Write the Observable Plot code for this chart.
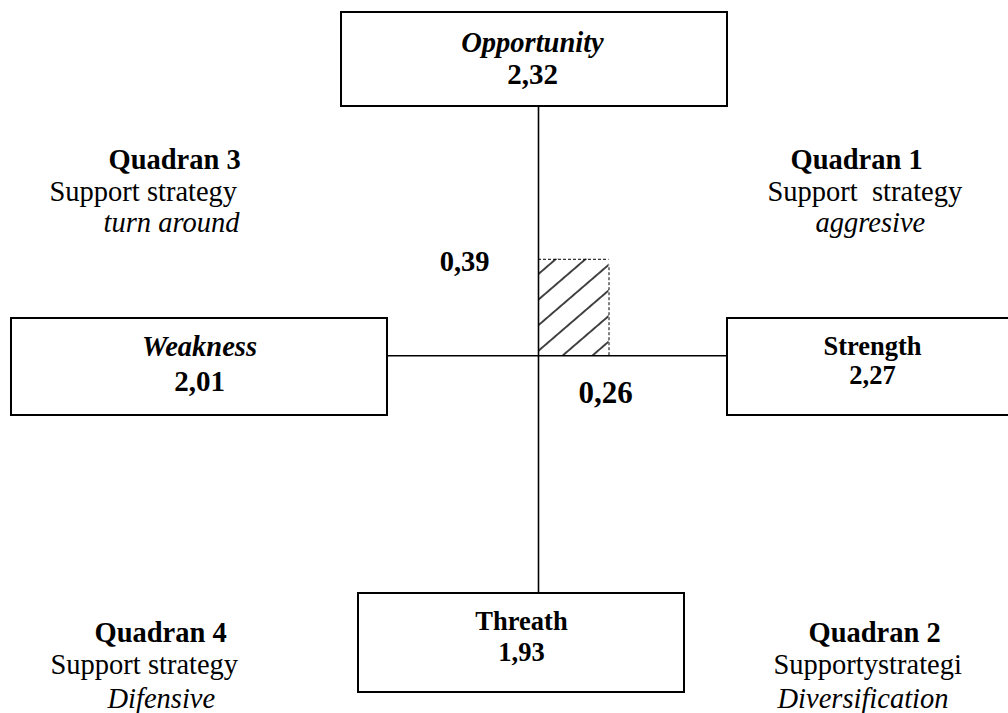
<!DOCTYPE html>
<html>
<head>
<meta charset="utf-8">
<script src="https://cdn.jsdelivr.net/npm/d3@7"></script>
<script src="https://cdn.jsdelivr.net/npm/@observablehq/plot@0.6"></script>
<style>
  html, body { margin: 0; padding: 0; background: #fff; }
  #chart svg { display: block; }
  #chart svg text { white-space: pre; }
</style>
</head>
<body>
<div id="chart"></div>
<script>
// ---------- DATA ----------
const factors = ["Opportunity", "Weakness", "Strength", "Threath"];
const scores = [2.32, 2.01, 2.27, 1.93];
const quadrantTitles = ["Quadran 1", "Quadran 2", "Quadran 3", "Quadran 4"];
const strategyLabels = ["Support  strategy", "Supportystrategi", "Support strategy", "Support strategy"];
const strategyNames = ["aggresive", "Diversification", "turn around", "Difensive"];

const score = Object.fromEntries(factors.map((f, i) => [f, scores[i]]));
const xValue = score.Strength - score.Weakness;      // 0,26
const yValue = score.Opportunity - score.Threath;    // 0,39
const fmt = v => v.toFixed(2).replace(".", ",");

// ---------- LAYOUT (pixels) ----------
const W = 1008, H = 713;
const X0 = 538, Y0 = 355.2, KX = 271.2, KY = 247.2;
const px = v => (v - X0) / KX;
const py = v => (Y0 - v) / KY;

const boxLayout = [
  {x1: 341, x2: 727, y1: 12, y2: 106, cx: 532, nameY: 51, valueY: 83, italic: true},
  {x1: 11, x2: 387, y1: 318, y2: 415, cx: 199, nameY: 355.5, valueY: 390, italic: true},
  {x1: 727, x2: 1016, y1: 318, y2: 415, cx: 872, nameY: 354, valueY: 383, italic: false},
  {x1: 358, x2: 684, y1: 593, y2: 692, cx: 521, nameY: 629, valueY: 660, italic: false}
];
const quadLayout = [
  {tx: 790, ty: 168, sx: 767, sy: 200, nx: 815, ny: 231},
  {tx: 808, ty: 641, sx: 773, sy: 673, nx: 777, ny: 707},
  {tx: 108, ty: 168, sx: 49, sy: 200, nx: 103, ny: 231.5},
  {tx: 94, ty: 641, sx: 50, sy: 673, nx: 107, ny: 707}
];

const boxes = factors.map((f, i) => {
  const L = boxLayout[i];
  return {
    name: f, value: fmt(scores[i]), italic: L.italic,
    x1: px(L.x1), x2: px(L.x2), y1: py(L.y2), y2: py(L.y1),
    cx: px(L.cx), nameY: py(L.nameY), valueY: py(L.valueY)
  };
});
const quads = quadrantTitles.map((t, i) => {
  const L = quadLayout[i];
  return {
    title: t, label: strategyLabels[i], strat: strategyNames[i],
    tx: px(L.tx), ty: py(L.ty), sx: px(L.sx), sy: py(L.sy), nx: px(L.nx), ny: py(L.ny)
  };
});
const B = Object.fromEntries(boxes.map(b => [b.name, b]));

const font = "'Liberation Serif', 'Times New Roman', Times, serif";

const marks = [
  // hatched result area
  Plot.rect([{x1: 0, x2: xValue, y1: 0, y2: yValue}], {
    x1: "x1", x2: "x2", y1: "y1", y2: "y2", fill: "url(#hatch)", stroke: "none"
  }),
  // dashed top and right edges
  Plot.ruleY([yValue], {x1: 0, x2: xValue, stroke: "black", strokeWidth: 1, strokeDasharray: "3,2"}),
  Plot.ruleX([xValue], {y1: 0, y2: yValue, insetBottom: -6, stroke: "black", strokeWidth: 1, strokeDasharray: "3,2"}),
  // axes
  Plot.ruleX([0], {y1: B.Threath.y2, y2: B.Opportunity.y1, stroke: "black", strokeWidth: 1.6}),
  Plot.ruleY([0], {x1: B.Weakness.x2, x2: B.Strength.x1, stroke: "black", strokeWidth: 1.6}),
  // boxes
  Plot.rect(boxes, {x1: "x1", x2: "x2", y1: "y1", y2: "y2", fill: "none", stroke: "black", strokeWidth: 2}),
  // box labels
  Plot.text(boxes.filter(d => d.italic), {x: "cx", y: "nameY", text: "name", fontSize: 28.5, fontWeight: "bold", fontStyle: "italic", lineAnchor: "bottom", textAnchor: "middle", fill: "black"}),
  Plot.text(boxes.filter(d => !d.italic), {x: "cx", y: "nameY", text: "name", fontSize: 26.5, fontWeight: "bold", lineAnchor: "bottom", textAnchor: "middle", fill: "black"}),
  Plot.text(boxes.filter(d => d.italic), {x: "cx", y: "valueY", text: "value", fontSize: 29, fontWeight: "bold", lineAnchor: "bottom", textAnchor: "middle", fill: "black"}),
  Plot.text(boxes.filter(d => !d.italic), {x: "cx", y: "valueY", text: "value", fontSize: 26.5, fontWeight: "bold", lineAnchor: "bottom", textAnchor: "middle", fill: "black"}),
  // result values
  Plot.text([yValue], {x: 0, y: d => d, text: d => fmt(d), dx: -49, dy: 11.7, fontSize: 28.5, fontWeight: "bold", lineAnchor: "bottom", textAnchor: "end", fill: "black"}),
  Plot.text([xValue], {x: d => d, y: 0, text: d => fmt(d), dx: -30.5, dy: 47.5, fontSize: 31, fontWeight: "bold", lineAnchor: "bottom", textAnchor: "start", fill: "black"}),
  // quadrant texts
  Plot.text(quads, {x: "tx", y: "ty", text: "title", fontSize: 28.5, fontWeight: "bold", lineAnchor: "bottom", textAnchor: "start", fill: "black"}),
  Plot.text(quads, {x: "sx", y: "sy", text: "label", fontSize: 28.5, lineAnchor: "bottom", textAnchor: "start", fill: "black"}),
  Plot.text(quads, {x: "nx", y: "ny", text: "strat", fontSize: 28.5, fontStyle: "italic", lineAnchor: "bottom", textAnchor: "start", fill: "black"})
];

const svg = Plot.plot({
  width: W, height: H, margin: 0,
  x: {domain: [px(0), px(W)], axis: null},
  y: {domain: [py(H), py(0)], axis: null},
  style: {fontFamily: font, background: "white", color: "black", overflow: "hidden"},
  marks
});

// hatch pattern definition
const HS = 19.4;
const defs = d3.select(svg).insert("defs", ":first-child");
const pat = defs.append("pattern")
  .attr("id", "hatch")
  .attr("patternUnits", "userSpaceOnUse")
  .attr("width", 40).attr("height", HS)
  .attr("patternTransform", `translate(${X0},300) rotate(-40.7) translate(0,${-HS / 2})`);
pat.append("line")
  .attr("x1", -2).attr("x2", 42).attr("y1", HS / 2).attr("y2", HS / 2)
  .attr("stroke", "black").attr("stroke-width", 1.4);

document.getElementById("chart").appendChild(svg);
</script>
</body>
</html>
